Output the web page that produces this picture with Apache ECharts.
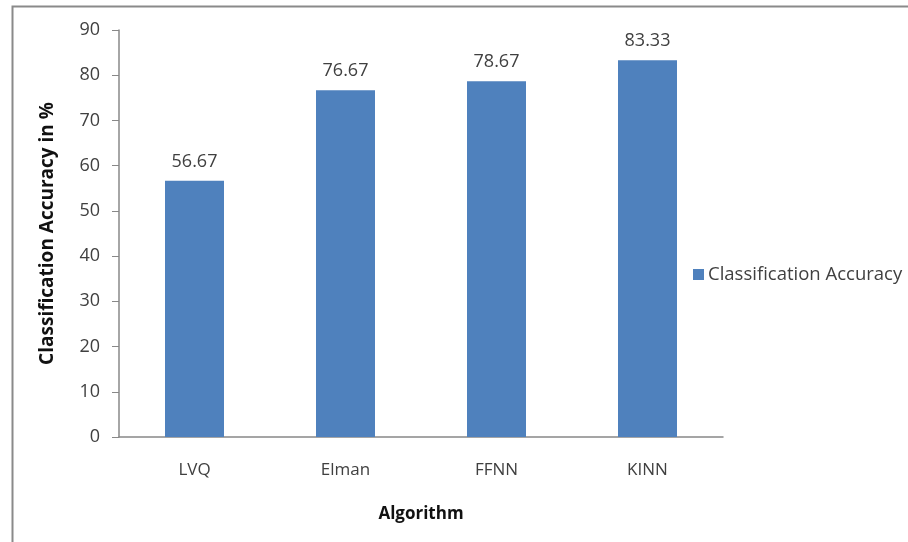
<!DOCTYPE html>
<html><head><meta charset="utf-8">
<script src="https://cdn.jsdelivr.net/npm/echarts@6/dist/echarts.min.js"></script>
<style>html,body{margin:0;padding:0;background:#fff}#c{width:908px;height:542px}</style>
</head><body><div id="c"></div>
<script>
const categories = ['LVQ', 'Elman', 'FFNN', 'KINN'];
const accuracy = [56.67, 76.67, 78.67, 83.33];
const seriesName = 'Classification Accuracy';
const xTitle = 'Algorithm';
const yTitle = 'Classification Accuracy in %';

const FONT = 'Open Sans';
const chart = echarts.init(document.getElementById('c'));
chart.setOption({
  backgroundColor: '#fff',
  animation: false,
  textStyle: { fontFamily: FONT },
  graphic: [{
    type: 'rect', left: 10, top: 4,
    shape: { width: 920, height: 560 },
    style: { fill: 'none', stroke: '#8a8a8a', lineWidth: 2 },
    silent: true
  }],
  grid: { left: 119, right: 185, top: 30, bottom: 105, containLabel: false },
  legend: {
    left: 688, top: 260, orient: 'vertical',
    itemWidth: 11, itemHeight: 11, itemGap: 6,
    icon: 'rect',
    textStyle: { fontFamily: FONT, fontSize: 18.5, color: '#404040', padding: [0, 0, 0, -1] },
    data: [seriesName]
  },
  xAxis: {
    type: 'category', data: categories,
    name: xTitle, nameLocation: 'middle', nameGap: 69,
    nameTextStyle: { fontFamily: FONT, fontSize: 17, fontWeight: 'bold', color: '#111' },
    axisLine: { lineStyle: { color: '#888', width: 1.5 } },
    axisTick: { show: false },
    axisLabel: { fontFamily: FONT, fontSize: 17, color: '#404040', margin: 25 }
  },
  yAxis: {
    type: 'value', min: 0, max: 90, interval: 10,
    name: yTitle, nameLocation: 'middle', nameGap: 62, nameRotate: 90,
    nameTextStyle: { fontFamily: FONT, fontSize: 19, fontWeight: 'bold', color: '#111' },
    axisLine: { show: true, lineStyle: { color: '#888', width: 1.5 } },
    axisTick: { show: true, inside: false, length: 7, lineStyle: { color: '#888' } },
    splitLine: { show: false },
    axisLabel: { fontFamily: FONT, fontSize: 18, color: '#404040', margin: 19 }
  },
  series: [{
    name: seriesName, type: 'bar', data: accuracy,
    barWidth: 59,
    itemStyle: { color: '#4f81bd' },
    label: { show: true, position: 'top', distance: 10, fontFamily: FONT, fontSize: 18, color: '#404040',
      formatter: p => p.value.toFixed(2) }
  }]
});
</script></body></html>
